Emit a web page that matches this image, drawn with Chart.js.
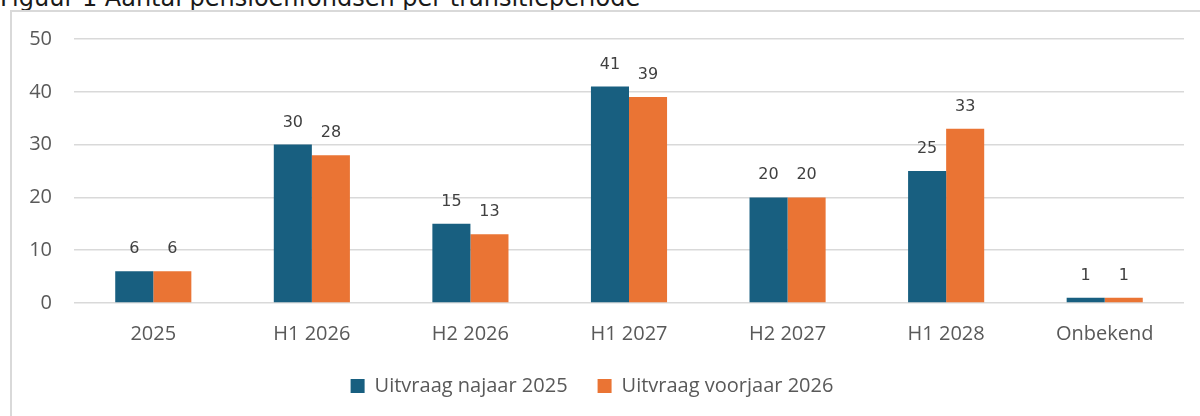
<!DOCTYPE html>
<html>
<head>
<meta charset="utf-8">
<script src="https://cdn.jsdelivr.net/npm/chart.js@4"></script>
<style>
    html, body { margin: 0; padding: 0; background: #fff; overflow: hidden; }
    #wrap { position: relative; width: 1200px; height: 416px; }
    #title {
        position: absolute; left: 0; top: -16px; margin: 0;
        font: 24px 'DejaVu Sans', Verdana, sans-serif; color: #1a1a1a; white-space: nowrap;
    }
    #frame {
        position: absolute; left: 10px; top: 10px; width: 1300px; height: 500px;
        border-left: 2px solid #d9d9d9; border-top: 2px solid #d9d9d9;
    }
    #chart { position: absolute; left: 0; top: 0; }
</style>
</head>
<body>
<div id="wrap">
    <div id="title">Figuur 1 Aantal pensioenfondsen per transitieperiode</div>
    <div id="frame"></div>
    <canvas id="chart" width="1200" height="416"></canvas>
</div>
<script>
// Chart data
const categories = ['2025', 'H1 2026', 'H2 2026', 'H1 2027', 'H2 2027', 'H1 2028', 'Onbekend'];
const najaar2025 = [6, 30, 15, 41, 20, 25, 1];
const voorjaar2026 = [6, 28, 13, 39, 20, 33, 1];
const yTicks = [0, 10, 20, 30, 40, 50];

const axisFont = { family: "'Open Sans', sans-serif", size: 20 };

// Draws the value above each bar
const valueLabels = {
    id: 'valueLabels',
    afterDatasetsDraw(chart) {
        const ctx = chart.ctx;
        ctx.save();
        ctx.font = "16px 'DejaVu Sans', Verdana, sans-serif";
        ctx.fillStyle = '#404040';
        ctx.textAlign = 'center';
        ctx.textBaseline = 'alphabetic';
        chart.data.datasets.forEach((ds, i) => {
            chart.getDatasetMeta(i).data.forEach((bar, j) => {
                ctx.fillText(ds.data[j], bar.x, bar.y - 18);
            });
        });
        ctx.restore();
    }
};

new Chart(document.getElementById('chart').getContext('2d'), {
    type: 'bar',
    data: {
        labels: categories,
        datasets: [{
            label: 'Uitvraag najaar 2025',
            data: najaar2025,
            backgroundColor: '#185f80',
            categoryPercentage: 0.48,
            barPercentage: 1.0
        }, {
            label: 'Uitvraag voorjaar 2026',
            data: voorjaar2026,
            backgroundColor: '#ea7434',
            categoryPercentage: 0.48,
            barPercentage: 1.0
        }]
    },
    options: {
        responsive: false,
        animation: false,
        layout: {
            padding: { top: 39, right: 16, left: 0, bottom: 10 }
        },
        plugins: {
            tooltip: { enabled: false },
            legend: {
                position: 'bottom',
                labels: {
                    color: '#595959',
                    font: axisFont,
                    boxWidth: 14,
                    boxHeight: 14,
                    padding: 30
                }
            }
        },
        scales: {
            x: {
                grid: { display: false },
                border: { display: false },
                ticks: { color: '#595959', font: axisFont, padding: 11 },
                afterFit(axis) { axis.height = 43; }
            },
            y: {
                min: 0,
                max: 50,
                afterBuildTicks(axis) { axis.ticks = yTicks.map(v => ({ value: v })); },
                grid: { color: '#d9d9d9', lineWidth: 1.5, drawTicks: false },
                border: { display: false },
                ticks: { color: '#595959', font: axisFont, padding: 22 },
                afterFit(axis) { axis.width = 74; }
            }
        }
    },
    plugins: [valueLabels]
});
</script>
</body>
</html>
